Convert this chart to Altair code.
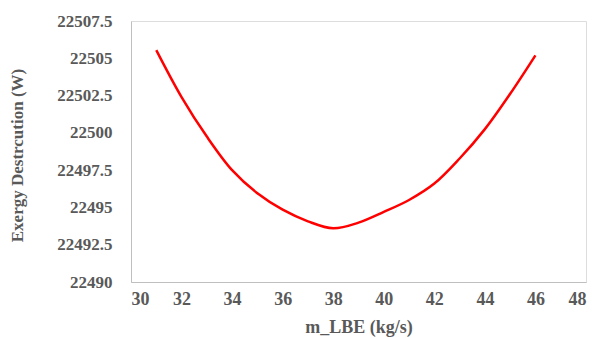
import altair as alt
import pandas as pd

m_lbe = [31, 32, 33, 34, 35, 36, 37, 38, 39, 40, 41, 42, 43, 44, 45, 46]
exergy = [22505.55, 22502.4, 22499.75, 22497.5, 22495.95, 22494.85, 22494.07, 22493.6,
          22493.98, 22494.7, 22495.5, 22496.6, 22498.28, 22500.25, 22502.62, 22505.2]

x_ticks = [30, 32, 34, 36, 38, 40, 42, 44, 46, 48]
y_ticks = [22490, 22492.5, 22495, 22497.5, 22500, 22502.5, 22505, 22507.5]

df = pd.DataFrame({"m": m_lbe, "e": exergy})

FONT = "Liberation Serif"
GRAY = "#595959"

chart = alt.Chart(df).mark_line(color="#FF0000", strokeWidth=2.5, interpolate="catmull-rom").encode(
    x=alt.X("m:Q", scale=alt.Scale(domain=[30, 48], nice=False, zero=False),
            axis=alt.Axis(values=x_ticks, format="d", title="m_LBE (kg/s)", grid=False,
                          ticks=False, domainColor="#bfbfbf", labelFont=FONT, labelFontSize=18,
                          labelFontWeight="bold", labelColor=GRAY, labelPadding=8,
                          titleFont=FONT, titleFontSize=18, titleFontWeight="bold",
                          titleColor=GRAY, titleY=45, titleBaseline="middle")),
    y=alt.Y("e:Q", scale=alt.Scale(domain=[22490, 22507.5], nice=False, zero=False),
            axis=alt.Axis(values=y_ticks, format=".1~f", title="Exergy Destrcution (W)", grid=False,
                          ticks=False, domainColor="#bfbfbf", labelFont=FONT, labelFontSize=17,
                          labelFontWeight="bold", labelColor=GRAY, labelPadding=19,
                          titleFont=FONT, titleFontSize=17, titleFontWeight="bold",
                          titleColor=GRAY, titleX=-114, titleY=134, titleAngle=-90,
                          titleAlign="center", titleBaseline="middle")),
).properties(
    width=455, height=261,
    autosize=alt.AutoSizeParams(type="none"),
    padding={"left": 131, "top": 21, "right": 12, "bottom": 56},
).configure_view(stroke=None).configure(background="white")

chart.save("out.html", embed_options={"renderer": "svg", "actions": False})
